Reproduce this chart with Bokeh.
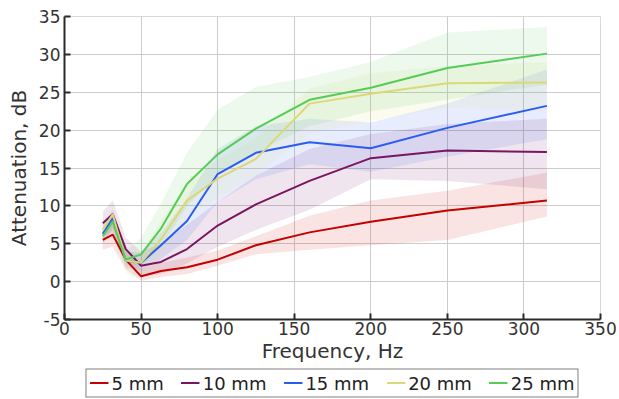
from bokeh.plotting import figure
from bokeh.models import Range1d, FixedTicker, Legend, LegendItem
from bokeh.layouts import column
from bokeh.embed import file_html
from bokeh.resources import INLINE

freq = [25, 31.5, 40, 50, 63, 80, 100, 125, 160, 200, 250, 315]

mm5 = [5.5, 6.2, 2.9, 0.7, 1.4, 1.9, 2.9, 4.8, 6.5, 7.9, 9.4, 10.7]
mm5_lo = [4.2, 4.6, 1.6, 0.1, 0.6, 1.0, 2.1, 3.6, 4.2, 4.8, 5.5, 8.6]
mm5_hi = [6.6, 7.6, 4.0, 1.7, 2.5, 3.2, 4.1, 6.0, 8.7, 10.7, 12.0, 14.4]

mm10 = [7.7, 8.9, 4.3, 2.1, 2.6, 4.3, 7.4, 10.2, 13.3, 16.3, 17.3, 17.1]
mm10_lo = [6.0, 6.5, 2.6, 0.6, 1.0, 2.4, 4.6, 6.8, 9.5, 13.5, 13.3, 12.2]
mm10_hi = [9.2, 10.7, 5.8, 4.0, 5.0, 7.5, 10.5, 14.0, 17.5, 19.5, 20.8, 21.5]

mm15 = [6.3, 8.4, 2.8, 2.5, 4.8, 8.0, 14.2, 17.0, 18.4, 17.6, 20.3, 23.2]
mm15_lo = [5.0, 7.0, 1.8, 1.5, 3.0, 5.5, 10.5, 13.5, 15.5, 14.5, 16.5, 18.8]
mm15_hi = [7.5, 9.5, 4.0, 3.8, 6.5, 11.0, 17.5, 20.5, 21.5, 21.0, 23.5, 28.0]

mm20 = [6.8, 8.9, 2.8, 2.5, 5.6, 10.7, 13.6, 16.2, 23.5, 24.8, 26.2, 26.3]
mm20_lo = [5.0, 7.0, 1.0, 0.5, 3.5, 8.5, 11.0, 14.0, 19.5, 21.2, 23.0, 22.5]
mm20_hi = [8.0, 9.5, 3.8, 3.8, 8.0, 13.0, 16.0, 19.0, 25.5, 27.5, 28.5, 29.0]

mm25 = [6.0, 7.9, 2.9, 3.6, 7.0, 12.9, 16.8, 20.2, 24.0, 25.6, 28.2, 30.1]
mm25_lo = [5.0, 7.0, 2.2, 2.0, 4.5, 10.0, 14.0, 17.0, 20.5, 22.5, 24.0, 26.0]
mm25_hi = [7.0, 9.0, 4.0, 5.8, 10.3, 17.0, 22.7, 25.7, 27.0, 29.0, 32.9, 33.6]

labels = ["5 mm", "10 mm", "15 mm", "20 mm", "25 mm"]
colors = ["#c40000", "#7a1560", "#2a5cf5", "#dcd878", "#55cc55"]
series = [(mm5, mm5_lo, mm5_hi), (mm10, mm10_lo, mm10_hi), (mm15, mm15_lo, mm15_hi),
          (mm20, mm20_lo, mm20_hi), (mm25, mm25_lo, mm25_hi)]

x_ticks = [0, 50, 100, 150, 200, 250, 300, 350]
y_ticks = [-5, 0, 5, 10, 15, 20, 25, 30, 35]

FONT = "DejaVu Sans"
TXT = "#333333"

# ---- main chart ----
p = figure(width=619, height=366, output_backend="svg", toolbar_location=None,
           x_range=Range1d(0, 350), y_range=Range1d(-5, 35),
           min_border_left=64, min_border_right=19, min_border_top=16, min_border_bottom=47)

for (ys, lo, hi), c in zip(series, colors):
    p.varea(x=freq, y1=lo, y2=hi, fill_color=c, fill_alpha=0.11)

for (ys, lo, hi), c in zip(series, colors):
    p.line(freq, ys, line_color=c, line_width=2)

p.outline_line_color = "#d8d8d8"
p.outline_line_width = 1

for ax in (p.xaxis[0], p.yaxis[0]):
    ax.axis_line_color = "#2b2b2b"
    ax.axis_line_width = 2
    ax.major_tick_line_color = "#2b2b2b"
    ax.major_tick_line_width = 2
    ax.major_tick_in = 6
    ax.major_tick_out = 0
    ax.minor_tick_line_color = None
    ax.major_label_text_font = FONT
    ax.major_label_text_font_size = "17px"
    ax.major_label_text_color = TXT
    ax.axis_label_text_font = FONT
    ax.axis_label_text_font_size = "20px"
    ax.axis_label_text_font_style = "normal"
    ax.axis_label_text_color = TXT

p.xaxis.ticker = FixedTicker(ticks=x_ticks)
p.yaxis.ticker = FixedTicker(ticks=y_ticks)
p.yaxis.major_label_overrides = {-5: "-5"}
p.xaxis.axis_label = "Frequency, Hz"
p.yaxis.axis_label = "Attenuation, dB"
p.xaxis.major_label_standoff = 2
p.xaxis.axis_label_standoff = 1
p.yaxis.major_label_standoff = 4
p.yaxis.axis_label_standoff = 5

p.xgrid.ticker = FixedTicker(ticks=x_ticks)
p.ygrid.ticker = FixedTicker(ticks=y_ticks)
p.grid.grid_line_color = "#cccccc"
p.grid.grid_line_width = 1

# ---- legend strip (same series, drawn outside its own visible range) ----
lf = figure(width=619, height=33, output_backend="svg", toolbar_location=None,
            x_axis_location=None, y_axis_location=None,
            x_range=Range1d(-2, -1), y_range=Range1d(-2, -1),
            min_border_left=41, min_border_right=0,
            min_border_top=0, min_border_bottom=0)
lf.grid.visible = False
lf.outline_line_color = None

items = []
for (ys, lo, hi), c, lab in zip(series, colors, labels):
    r = lf.line(freq, ys, line_color=c, line_width=2)
    items.append(LegendItem(label=lab, renderers=[r]))

legend = Legend(items=items, orientation="horizontal", location="center",
                border_line_color="black", border_line_width=1,
                padding=3, spacing=17, margin=0,
                glyph_width=19, glyph_height=18, label_standoff=3, label_height=18,
                label_text_font=FONT, label_text_font_size="18px", label_text_color="#222222",
                background_fill_alpha=1)
lf.add_layout(legend, "center")

layout = column(p, lf, spacing=0)
open("out.html", "w").write(file_html(layout, INLINE))
